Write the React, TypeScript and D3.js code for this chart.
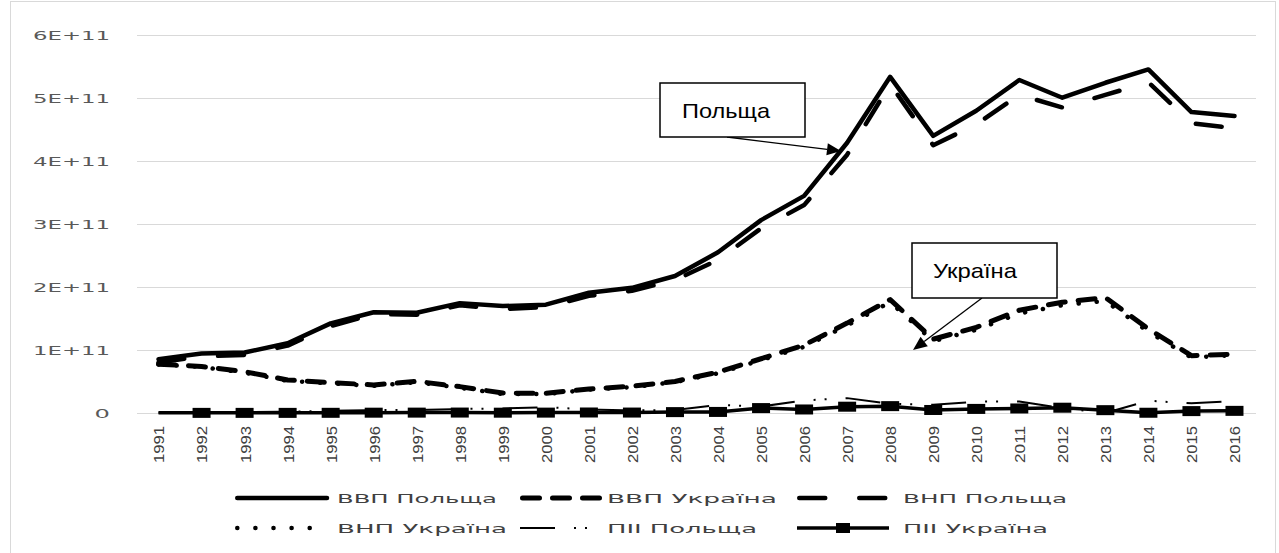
import React, { useEffect, useRef } from 'react';
import * as d3 from 'd3';

const years = ['1991', '1992', '1993', '1994', '1995', '1996', '1997', '1998', '1999', '2000', '2001', '2002', '2003',
  '2004', '2005', '2006', '2007', '2008', '2009', '2010', '2011', '2012', '2013', '2014', '2015', '2016'];

// values in billions USD
const gdpPoland = [85.5, 94.3, 96.0, 110.8, 142.3, 159.9, 159.1, 174.4, 169.7, 171.9, 190.9, 198.7, 217.5,
  255.1, 306.1, 344.6, 429.0, 533.6, 439.8, 479.8, 528.6, 500.4, 524.2, 545.3, 477.6, 471.4];
const gdpUkraine = [77.5, 73.9, 65.6, 52.5, 48.2, 44.6, 50.2, 41.9, 31.6, 31.3, 38.0, 42.4, 50.1,
  64.9, 86.1, 107.8, 142.7, 180.0, 117.2, 136.0, 163.2, 175.8, 183.3, 133.5, 91.0, 93.4];
const gniPoland = [80, 90, 92, 107, 138, 157, 156, 171, 165, 168, 186, 194, 211,
  243, 293, 330, 410, 522, 425, 458, 505, 485, 505, 525, 460, 452];
const gniUkraine = [77, 73, 64, 51, 47, 43, 49, 40, 30, 30, 37, 41, 49,
  63, 84, 105, 139, 176, 114, 132, 158, 171, 178, 129, 88, 92];
const fdiPoland = [0.3, 0.7, 1.7, 1.9, 3.7, 4.5, 4.9, 6.4, 7.3, 9.3, 5.7, 4.1, 4.6,
  12.9, 10.3, 19.9, 23.6, 14.8, 13.0, 18.0, 18.3, 7.7, 0.1, 19.5, 15.3, 19.1];
const fdiUkraine = [0.2, 0.2, 0.2, 0.2, 0.3, 0.5, 0.6, 0.7, 0.5, 0.6, 0.8, 0.7, 1.4,
  1.7, 7.8, 5.6, 10.0, 10.9, 4.8, 6.5, 7.2, 8.4, 4.5, 0.4, 3.0, 3.4];

const yTicks = [0, 1e11, 2e11, 3e11, 4e11, 5e11, 6e11];
const yTickLabels = ['0', '1E+11', '2E+11', '3E+11', '4E+11', '5E+11', '6E+11'];

interface Series {
  name: string;
  values: number[];
  width: number;
  dash: string | null;
  cap: string;
  marker: boolean;
}

const series: Series[] = [
  { name: 'ВВП Польща', values: gdpPoland, width: 4.5, dash: null, cap: 'round', marker: false },
  { name: 'ВВП Україна', values: gdpUkraine, width: 5, dash: '17 13', cap: 'round', marker: false },
  { name: 'ВНП Польща', values: gniPoland, width: 4.5, dash: '26 34', cap: 'round', marker: false },
  { name: 'ВНП Україна', values: gniUkraine, width: 4.5, dash: '0.1 18', cap: 'round', marker: false },
  { name: 'ПІІ Польща', values: fdiPoland, width: 2, dash: '35 19 2 9 2 19', cap: 'butt', marker: false },
  { name: 'ПІІ Україна', values: fdiUkraine, width: 3.5, dash: null, cap: 'butt', marker: true },
];

const App: React.FC = () => {
  const ref = useRef<SVGSVGElement | null>(null);

  useEffect(() => {
    const svg = d3.select(ref.current);
    svg.selectAll('*').remove();

    const W = 1279, H = 553;
    const left = 137, right = 1256, top = 35, bottom = 413;

    svg.append('rect')
      .attr('x', 10.5).attr('y', 1.5)
      .attr('width', W - 14).attr('height', H + 20)
      .attr('fill', '#fff').attr('stroke', '#d9d9d9');

    const x = d3.scaleBand<string>().domain(years).range([left, right]);
    const y = d3.scaleLinear().domain([0, 6e11]).range([bottom, top]);
    const cx = (i: number) => (x(years[i]) as number) + x.bandwidth() / 2;

    // gridlines
    svg.append('g').selectAll('line')
      .data(yTicks)
      .enter()
      .append('line')
      .attr('x1', left).attr('x2', right)
      .attr('y1', d => y(d) + 0.5).attr('y2', d => y(d) + 0.5)
      .attr('stroke', '#d9d9d9').attr('stroke-width', 1);

    // y labels
    svg.append('g').selectAll('text')
      .data(yTicks)
      .enter()
      .append('text')
      .attr('x', 110)
      .attr('y', d => y(d))
      .attr('dy', '0.36em')
      .attr('text-anchor', 'end')
      .attr('font-family', 'DejaVu Sans, sans-serif')
      .attr('font-size', 13)
      .attr('fill', '#595959')
      .attr('textLength', (d, i) => yTickLabels[i].length * 15.4)
      .attr('lengthAdjust', 'spacingAndGlyphs')
      .text((d, i) => yTickLabels[i]);

    // x labels
    svg.append('g').selectAll('text')
      .data(years)
      .enter()
      .append('text')
      .attr('transform', (d, i) => `translate(${cx(i) + 1},426) rotate(-90)`)
      .attr('text-anchor', 'end')
      .attr('dy', '0.35em')
      .attr('font-family', 'Liberation Sans Narrow, Liberation Sans, Arial, sans-serif')
      .attr('font-size', 14)
      .attr('fill', '#404040')
      .attr('textLength', 37)
      .attr('lengthAdjust', 'spacingAndGlyphs')
      .text(d => d);

    const line = d3.line<number>()
      .x((d, i) => cx(i))
      .y(d => y(d * 1e9));

    // draw order so GDP Poland sits on top
    const order = [4, 3, 1, 2, 0, 5];
    order.forEach(k => {
      const s = series[k];
      svg.append('path')
        .datum(s.values)
        .attr('d', line)
        .attr('fill', 'none')
        .attr('stroke', '#000')
        .attr('stroke-width', s.width)
        .attr('stroke-linecap', s.cap)
        .attr('stroke-linejoin', 'round')
        .attr('stroke-dasharray', s.dash);
      if (s.marker) {
        svg.append('g').selectAll('rect')
          .data(s.values.slice(1))
          .enter()
          .append('rect')
          .attr('x', (d, i) => cx(i + 1) - 9)
          .attr('y', d => y(d * 1e9) - 5)
          .attr('width', 18).attr('height', 10)
          .attr('fill', '#000');
      }
    });

    // callouts
    const arrow = (x1: number, y1: number, x2: number, y2: number) => {
      const a = Math.atan2(y2 - y1, x2 - x1);
      const len = 14, half = 6;
      const bx = x2 - len * Math.cos(a), by = y2 - len * Math.sin(a);
      svg.append('line')
        .attr('x1', x1).attr('y1', y1).attr('x2', bx).attr('y2', by)
        .attr('stroke', '#000').attr('stroke-width', 1.3);
      const pts: [number, number][] = [
        [x2, y2],
        [bx + half * Math.sin(a), by - half * Math.cos(a)],
        [bx - half * Math.sin(a), by + half * Math.cos(a)],
      ];
      svg.append('polygon').attr('points', pts.map(p => p.join(',')).join(' ')).attr('fill', '#000');
    };

    const callout = (bx: number, by: number, bw: number, bh: number, label: string, tx: number, tl: number) => {
      svg.append('rect')
        .attr('x', bx).attr('y', by).attr('width', bw).attr('height', bh)
        .attr('fill', '#fff').attr('stroke', '#000').attr('stroke-width', 1.5);
      svg.append('text')
        .attr('x', tx).attr('y', by + bh / 2)
        .attr('dy', '0.36em')
        .attr('font-family', 'Liberation Sans, Arial, sans-serif')
        .attr('font-size', 21)
        .attr('fill', '#000')
        .attr('textLength', tl)
        .attr('lengthAdjust', 'spacingAndGlyphs')
        .text(label);
    };

    arrow(727, 137, 841, 151);
    callout(660, 83, 145, 54, 'Польща', 682, 88);
    arrow(982, 298, 913, 350);
    callout(912, 243, 145, 55, 'Україна', 933, 84);

    // legend
    const legendRows = [498, 528];
    const sampleX = [235, 520, 797];
    const sampleLen = [92, 92, 92, 92, 70, 92];
    const textX = [337, 607, 903];
    const textLen = [160, 170, 164, 170, 150, 145];
    series.forEach((s, k) => {
      const row = Math.floor(k / 3), col = k % 3;
      const ly = legendRows[row];
      const x0 = sampleX[col], x1 = x0 + sampleLen[k];
      svg.append('line')
        .attr('x1', x0 + (s.cap === 'round' ? s.width / 2 : 0)).attr('x2', x1)
        .attr('y1', ly).attr('y2', ly)
        .attr('stroke', '#000')
        .attr('stroke-width', s.width)
        .attr('stroke-linecap', s.cap)
        .attr('stroke-dasharray', s.dash);
      if (s.marker) {
        svg.append('rect')
          .attr('x', (x0 + x1) / 2 - 7).attr('y', ly - 5)
          .attr('width', 14).attr('height', 10).attr('fill', '#000');
      }
      svg.append('text')
        .attr('x', textX[col]).attr('y', ly)
        .attr('dy', '0.36em')
        .attr('font-family', 'DejaVu Sans, sans-serif')
        .attr('font-size', 13)
        .attr('fill', '#404040')
        .attr('textLength', textLen[k])
        .attr('lengthAdjust', 'spacingAndGlyphs')
        .text(s.name);
    });
  }, []);

  return (
    <svg
      ref={ref}
      width={1279}
      height={553}
      style={{ position: 'absolute', left: 0, top: 0, background: '#fff' }}
    />
  );
};

export default App;
